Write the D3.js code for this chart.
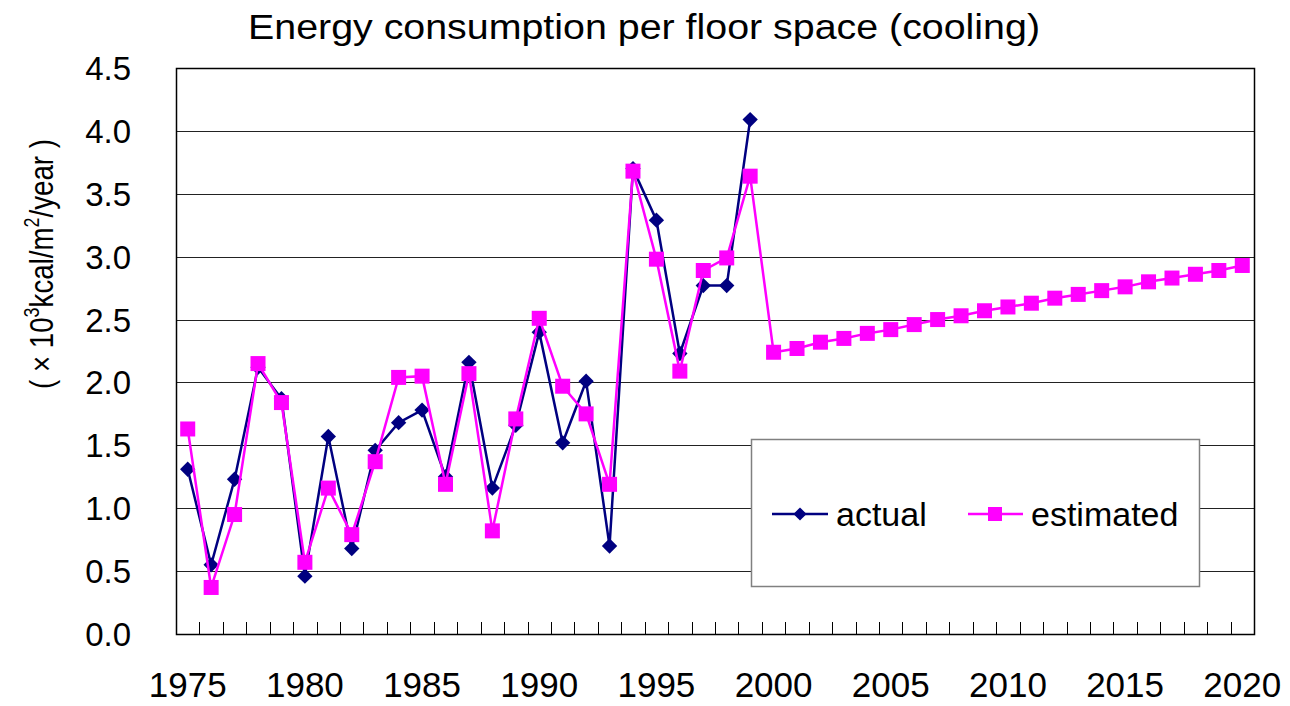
<!DOCTYPE html>
<html lang="en">
<head>
<meta charset="utf-8">
<title>Energy consumption per floor space (cooling)</title>
<script src="https://cdn.jsdelivr.net/npm/d3@7"></script>
<style>
body { margin: 0; background: #fff; }
svg text { font-family: "Liberation Sans", Arial, sans-serif; fill: #000; }
</style>
</head>
<body>
<svg id="chart" width="1290" height="706"></svg>
<script>
// data
var years = d3.range(1975, 2021);
var actual = [1.31, 0.55, 1.23, 2.12, 1.87, 0.46, 1.57, 0.68, 1.46, 1.68,
              1.78, 1.25, 2.16, 1.16, 1.66, 2.40, 1.52, 2.01, 0.70, 3.70,
              3.29, 2.23, 2.77, 2.77, 4.09];
var estimated = [1.63, 0.37, 0.95, 2.15, 1.84, 0.57, 1.16, 0.79, 1.37, 2.04,
                 2.05, 1.19, 2.07, 0.82, 1.71, 2.51, 1.97, 1.75, 1.19, 3.68,
                 2.98, 2.09, 2.89, 2.99, 3.64, 2.24, 2.27, 2.32, 2.35, 2.39,
                 2.42, 2.46, 2.50, 2.53, 2.57, 2.60, 2.63, 2.67, 2.70, 2.73,
                 2.76, 2.80, 2.83, 2.86, 2.89, 2.93];
var yTicks = [0, 0.5, 1.0, 1.5, 2.0, 2.5, 3.0, 3.5, 4.0, 4.5];
var xLabels = [1975, 1980, 1985, 1990, 1995, 2000, 2005, 2010, 2015, 2020];

var pL = 176, pR = 1254, pT = 68, pB = 634;
var svg = d3.select("#chart");

var x = d3.scaleBand().domain(years).range([pL, pR]).padding(0);
var y = d3.scaleLinear().domain([0, 4.5]).range([pB, pT]);
function cx(yr) { return x(yr) + x.bandwidth() / 2; }

// gridlines
svg.append("g").selectAll("line")
  .data(yTicks.slice(1, -1))
  .enter().append("line")
    .attr("x1", pL).attr("x2", pR)
    .attr("y1", function(d) { return Math.round(y(d)) + 0.5; })
    .attr("y2", function(d) { return Math.round(y(d)) + 0.5; })
    .attr("stroke", "#222").attr("stroke-width", 1.2);

// plot border
svg.append("rect")
  .attr("x", pL + 0.5).attr("y", pT + 0.5)
  .attr("width", pR - pL).attr("height", pB - pT)
  .attr("fill", "none").attr("stroke", "#000").attr("stroke-width", 1.5);

// x ticks between categories
svg.append("g").selectAll("line")
  .data(years.slice(1))
  .enter().append("line")
    .attr("x1", function(d) { return Math.round(x(d)) + 0.5; })
    .attr("x2", function(d) { return Math.round(x(d)) + 0.5; })
    .attr("y1", pB).attr("y2", pB - 12)
    .attr("stroke", "#000").attr("stroke-width", 1);

// y tick labels
svg.append("g").selectAll("text")
  .data(yTicks)
  .enter().append("text")
    .attr("x", 131).attr("y", function(d) { return y(d) + 12; })
    .attr("text-anchor", "end")
    .style("font-size", "33px")
    .text(function(d) { return d3.format(".1f")(d); });

// x tick labels
svg.append("g").selectAll("text")
  .data(xLabels)
  .enter().append("text")
    .attr("x", function(d) { return cx(d); }).attr("y", 697)
    .attr("text-anchor", "middle")
    .style("font-size", "35px")
    .text(function(d) { return d; });

// title
svg.append("text")
  .attr("x", 644).attr("y", 39)
  .attr("text-anchor", "middle")
  .attr("textLength", 792).attr("lengthAdjust", "spacingAndGlyphs")
  .style("font-size", "35px")
  .text("Energy consumption per floor space (cooling)");

// y axis label
var yl = svg.append("text")
  .attr("transform", "translate(53,264) rotate(-90)")
  .attr("text-anchor", "middle")
  .attr("textLength", 250).attr("lengthAdjust", "spacingAndGlyphs")
  .style("font-size", "34px");
yl.append("tspan").text("( × 10");
yl.append("tspan").attr("dy", -14).style("font-size", "22px").text("3");
yl.append("tspan").attr("dy", 14).text("kcal/m");
yl.append("tspan").attr("dy", -14).style("font-size", "22px").text("2");
yl.append("tspan").attr("dy", 14).text("/year )");

// series
var line = d3.line()
  .x(function(d) { return cx(d.year); })
  .y(function(d) { return y(d.v); });

var actData = actual.map(function(v, i) { return {year: years[i], v: v}; });
var estData = estimated.map(function(v, i) { return {year: years[i], v: v}; });

var navy = "#000080", pink = "#ff00ff";

svg.append("path").datum(actData)
  .attr("d", line).attr("fill", "none")
  .attr("stroke", navy).attr("stroke-width", 2.5);

svg.append("g").selectAll("path")
  .data(actData)
  .enter().append("path")
    .attr("d", d3.symbol().type(d3.symbolSquare2).size(150)())
    .attr("transform", function(d) { return "translate(" + cx(d.year) + "," + y(d.v) + ") rotate(45)"; })
    .attr("fill", navy);

svg.append("path").datum(estData)
  .attr("d", line).attr("fill", "none")
  .attr("stroke", pink).attr("stroke-width", 2.5);

svg.append("g").selectAll("rect")
  .data(estData)
  .enter().append("rect")
    .attr("x", function(d) { return cx(d.year) - 7.5; })
    .attr("y", function(d) { return y(d.v) - 7.5; })
    .attr("width", 15).attr("height", 15)
    .attr("fill", pink);

// legend
var lg = svg.append("g");
lg.append("rect")
  .attr("x", 751.5).attr("y", 439.5).attr("width", 448).attr("height", 147)
  .attr("fill", "#fff").attr("stroke", "#808080").attr("stroke-width", 1.5);
lg.append("line").attr("x1", 772).attr("x2", 828).attr("y1", 514).attr("y2", 514)
  .attr("stroke", navy).attr("stroke-width", 2.5);
lg.append("path")
  .attr("d", d3.symbol().type(d3.symbolSquare2).size(110)())
  .attr("transform", "translate(800,514) rotate(45)").attr("fill", navy);
lg.append("text").attr("x", 836).attr("y", 526).style("font-size", "34px").text("actual");
lg.append("line").attr("x1", 968).attr("x2", 1023).attr("y1", 514).attr("y2", 514)
  .attr("stroke", pink).attr("stroke-width", 2.5);
lg.append("rect").attr("x", 988).attr("y", 507).attr("width", 14).attr("height", 14).attr("fill", pink);
lg.append("text").attr("x", 1031).attr("y", 526).style("font-size", "34px").text("estimated");
</script>
</body>
</html>
